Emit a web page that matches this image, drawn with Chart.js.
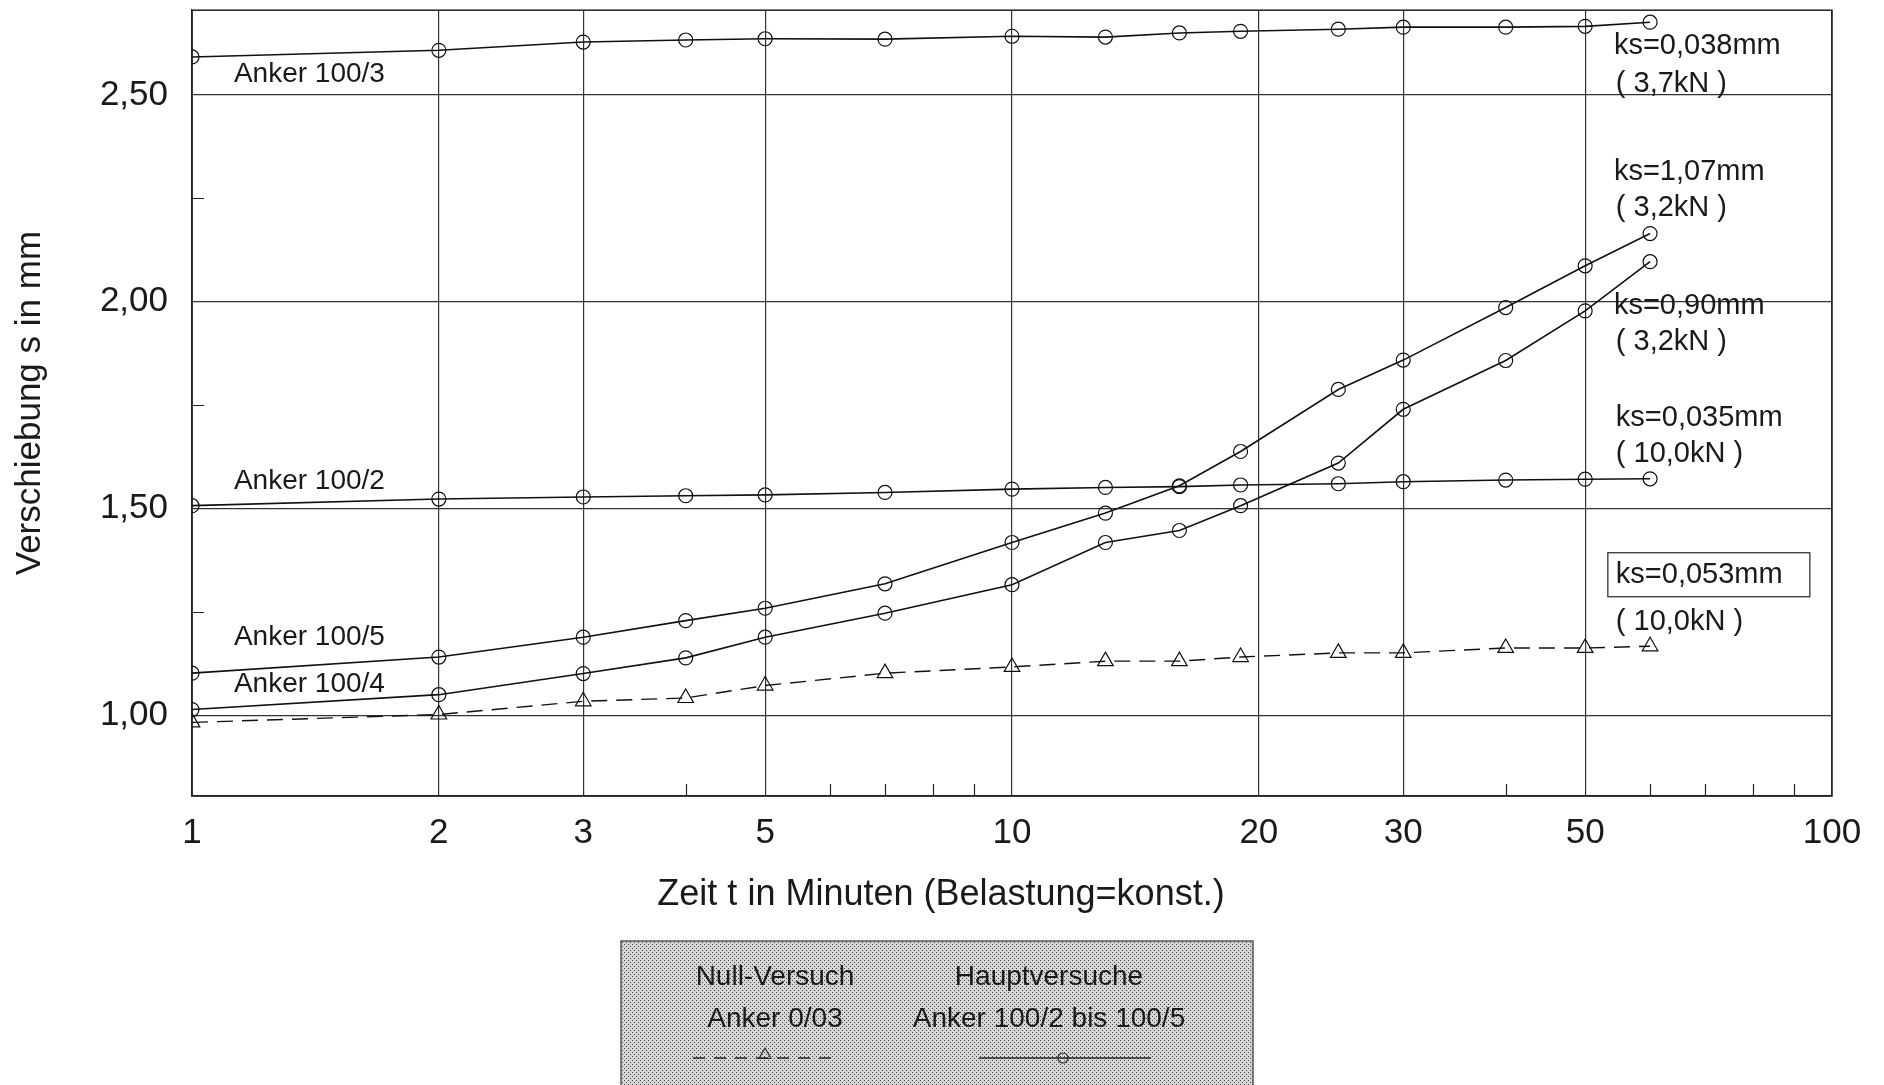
<!DOCTYPE html>
<html>
<head>
<meta charset="utf-8">
<script src="https://cdn.jsdelivr.net/npm/chart.js@4.4.1/dist/chart.umd.min.js"></script>
<style>
html,body{margin:0;padding:0;background:#fff;overflow:hidden}
#wrap{position:relative;width:1884px;height:1085px}
</style>
</head>
<body>
<div id="wrap"><canvas id="c"></canvas></div>
<script>
// ---------- data ----------
const times      = [1, 2, 3, 4, 5, 7, 10, 13, 16, 19, 25, 30, 40, 50, 60];
const anker100_3 = [2.592, 2.608, 2.628, 2.633, 2.636, 2.635, 2.642, 2.640, 2.650, 2.654, 2.659, 2.664, 2.664, 2.666, 2.676];
const anker100_2 = [1.507, 1.523, 1.528, 1.531, 1.533, 1.539, 1.547, 1.551, 1.553, 1.557, 1.560, 1.565, 1.569, 1.571, 1.572];
const anker100_5 = [1.102, 1.141, 1.189, 1.229, 1.259, 1.318, 1.418, 1.489, 1.555, 1.638, 1.788, 1.859, 1.986, 2.087, 2.165];
const anker100_4 = [1.014, 1.050, 1.101, 1.139, 1.189, 1.247, 1.316, 1.418, 1.447, 1.507, 1.610, 1.740, 1.858, 1.978, 2.097];
const anker0_03  = [0.983, 1.002, 1.034, 1.042, 1.072, 1.102, 1.117, 1.131, 1.131, 1.141, 1.151, 1.151, 1.163, 1.163, 1.167];

const seriesNames = ['Anker 100/3', 'Anker 100/2', 'Anker 100/5', 'Anker 100/4', 'Anker 0/03'];

const xTickValues = [1, 2, 3, 5, 10, 20, 30, 50, 100];
const xMinorTicks = [4, 6, 7, 8, 9, 40, 60, 70, 80, 90];
const yTickValues = [1.0, 1.5, 2.0, 2.5];
const yMinorTicks = [1.25, 1.75, 2.25];

const xTitle = 'Zeit t in Minuten (Belastung=konst.)';
const yTitle = 'Verschiebung s in mm';

// curve labels (anchored in data coordinates)
const curveLabels = [
  {text: 'Anker 100/3', x: 1.125, y: 2.550},
  {text: 'Anker 100/2', x: 1.125, y: 1.565},
  {text: 'Anker 100/5', x: 1.125, y: 1.188},
  {text: 'Anker 100/4', x: 1.125, y: 1.074}
];
const ksLabels = [
  {text: 'ks=0,038mm', x: 54.2, y: 2.618, box: false},
  {text: '( 3,7kN )',  x: 54.5, y: 2.526, box: false},
  {text: 'ks=1,07mm',  x: 54.2, y: 2.313, box: false},
  {text: '( 3,2kN )',  x: 54.5, y: 2.226, box: false},
  {text: 'ks=0,90mm',  x: 54.2, y: 1.989, box: false},
  {text: '( 3,2kN )',  x: 54.5, y: 1.902, box: false},
  {text: 'ks=0,035mm', x: 54.5, y: 1.719, box: false},
  {text: '( 10,0kN )', x: 54.5, y: 1.632, box: false},
  {text: 'ks=0,053mm', x: 54.5, y: 1.340, box: true},
  {text: '( 10,0kN )', x: 54.5, y: 1.226, box: false}
];
const legendCols = [
  {lines: ['Null-Versuch', 'Anker 0/03'], dataset: 4},
  {lines: ['Hauptversuche', 'Anker 100/2 bis 100/5'], dataset: 0}
];

// ---------- chart ----------
const FONT = '"Liberation Sans", Arial, Helvetica, sans-serif';
const INK = '#1a1a1a';
Chart.defaults.font.family = FONT;
Chart.defaults.color = INK;

const mk = vals => times.map((t, i) => ({x: t, y: vals[i]}));
const lineBase = {
  borderColor: '#111', borderWidth: 1.6, fill: false, tension: 0,
  pointBorderColor: '#111', pointBackgroundColor: 'rgba(0,0,0,0)', pointBorderWidth: 1.2
};
const datasets = [
  Object.assign({label: seriesNames[0], data: mk(anker100_3), pointStyle: 'circle', pointRadius: 7}, lineBase),
  Object.assign({label: seriesNames[1], data: mk(anker100_2), pointStyle: 'circle', pointRadius: 7}, lineBase),
  Object.assign({label: seriesNames[2], data: mk(anker100_5), pointStyle: 'circle', pointRadius: 7}, lineBase),
  Object.assign({label: seriesNames[3], data: mk(anker100_4), pointStyle: 'circle', pointRadius: 7}, lineBase),
  Object.assign({label: seriesNames[4], data: mk(anker0_03), pointStyle: 'triangle', pointRadius: 9,
                 borderDash: [16, 9]}, lineBase, {borderWidth: 1.4})
];

function makePattern(ctx) {
  const p = document.createElement('canvas');
  p.width = 4; p.height = 4;
  const g = p.getContext('2d');
  g.fillStyle = '#d6d6d6'; g.fillRect(0, 0, 4, 4);
  g.fillStyle = '#444'; g.fillRect(0, 0, 1, 1); g.fillRect(2, 2, 1, 1);
  return ctx.createPattern(p, 'repeat');
}

function hollowMarker(ctx, style, r, cx, cy) {
  ctx.beginPath();
  if (style === 'triangle') {
    for (let k = 0; k < 3; k++) {
      const a = -Math.PI / 2 + k * 2 * Math.PI / 3;
      const px = cx + Math.cos(a) * r, py = cy + Math.sin(a) * r;
      k ? ctx.lineTo(px, py) : ctx.moveTo(px, py);
    }
    ctx.closePath();
  } else {
    ctx.arc(cx, cy, r, 0, Math.PI * 2);
  }
  ctx.stroke();
}

const overlay = {
  id: 'overlay',
  beforeDatasetsDraw(chart) {
    const {ctx, chartArea: a, scales: {x, y}} = chart;
    ctx.save();
    ctx.strokeStyle = '#222';
    ctx.lineWidth = 1.5;
    ctx.strokeRect(a.left, a.top, a.right - a.left, a.bottom - a.top);
    ctx.lineWidth = 1.2;
    ctx.beginPath();
    yMinorTicks.forEach(v => {
      const py = Math.round(y.getPixelForValue(v)) + 0.5;
      ctx.moveTo(a.left, py); ctx.lineTo(a.left + 12, py);
    });
    xMinorTicks.forEach(v => {
      const px = Math.round(x.getPixelForValue(v)) + 0.5;
      ctx.moveTo(px, a.bottom); ctx.lineTo(px, a.bottom - 12);
    });
    ctx.stroke();
    ctx.restore();
  },
  afterDraw(chart) {
    const {ctx, scales: {x, y}} = chart;
    ctx.save();
    ctx.fillStyle = INK;
    ctx.textBaseline = 'middle';
    ctx.textAlign = 'left';
    ctx.font = '28px ' + FONT;
    curveLabels.forEach(l => ctx.fillText(l.text, x.getPixelForValue(l.x), y.getPixelForValue(l.y)));
    ctx.font = '29px ' + FONT;
    ksLabels.forEach(l => {
      const px = x.getPixelForValue(l.x), py = y.getPixelForValue(l.y);
      ctx.fillText(l.text, px, py);
      if (l.box) {
        ctx.strokeStyle = '#333'; ctx.lineWidth = 1.3;
        ctx.strokeRect(px - 8, py - 22, 202, 44);
      }
    });

    // x-axis title (centred under the data region as in the original)
    ctx.textAlign = 'center';
    ctx.font = '36px ' + FONT;
    ctx.fillText(xTitle, 941, 895);

    // legend box
    const L = 621, T = 941, R = 1253, B = 1092;
    ctx.fillStyle = makePattern(ctx);
    ctx.fillRect(L, T, R - L, B - T);
    ctx.strokeStyle = '#555'; ctx.lineWidth = 1.5;
    ctx.strokeRect(L, T, R - L, B - T);
    ctx.fillStyle = INK;
    ctx.font = '28px ' + FONT;
    const colX = [775, 1049];
    legendCols.forEach((c, i) => {
      ctx.fillText(c.lines[0], colX[i], 977);
      ctx.fillText(c.lines[1], colX[i], 1019);
    });
    // samples
    const ds0 = chart.data.datasets[legendCols[0].dataset];
    const ds1 = chart.data.datasets[legendCols[1].dataset];
    ctx.strokeStyle = '#222'; ctx.lineWidth = 1.3;
    ctx.setLineDash([12, 9]);
    ctx.beginPath(); ctx.moveTo(693, 1058); ctx.lineTo(837, 1058); ctx.stroke();
    ctx.setLineDash([]);
    ctx.beginPath(); ctx.moveTo(979, 1058); ctx.lineTo(1151, 1058); ctx.stroke();
    ctx.lineWidth = 1.1;
    hollowMarker(ctx, ds0.pointStyle, 7, 765, 1055);
    hollowMarker(ctx, ds1.pointStyle, 5, 1063, 1058);
    ctx.restore();
  }
};

new Chart(document.getElementById('c'), {
  type: 'line',
  data: {datasets},
  options: {
    responsive: true,
    maintainAspectRatio: false,
    devicePixelRatio: 1,
    animation: false,
    layout: {padding: {left: 0, right: 52, top: 10, bottom: 144}},
    plugins: {legend: {display: false}, tooltip: {enabled: false}},
    scales: {
      x: {
        type: 'logarithmic', min: 1, max: 100,
        afterBuildTicks: s => { s.ticks = xTickValues.map(v => ({value: v})); },
        afterFit: s => { s.height = 145; s.paddingLeft = 0; s.paddingRight = 0; },
        ticks: {autoSkip: false, maxRotation: 0, minRotation: 0, padding: 16, font: {size: 35}, color: INK,
                callback: v => String(v)},
        grid: {color: '#333', lineWidth: 1.2, drawTicks: false},
        border: {color: '#222', width: 1.5},
        title: {display: false}
      },
      y: {
        type: 'linear', min: 0.805, max: 2.705,
        afterBuildTicks: s => { s.ticks = yTickValues.map(v => ({value: v})); },
        afterFit: s => { s.width = 192; s.paddingTop = 0; s.paddingBottom = 0; },
        ticks: {padding: 24, font: {size: 35}, color: INK,
                callback: v => Number(v).toFixed(2).replace('.', ',')},
        grid: {color: '#333', lineWidth: 1.2, drawTicks: false},
        border: {color: '#222', width: 1.5},
        title: {display: true, text: yTitle, font: {size: 35}, color: INK, padding: {top: 9, bottom: 0}}
      }
    }
  },
  plugins: [overlay]
});
</script>
</body>
</html>
